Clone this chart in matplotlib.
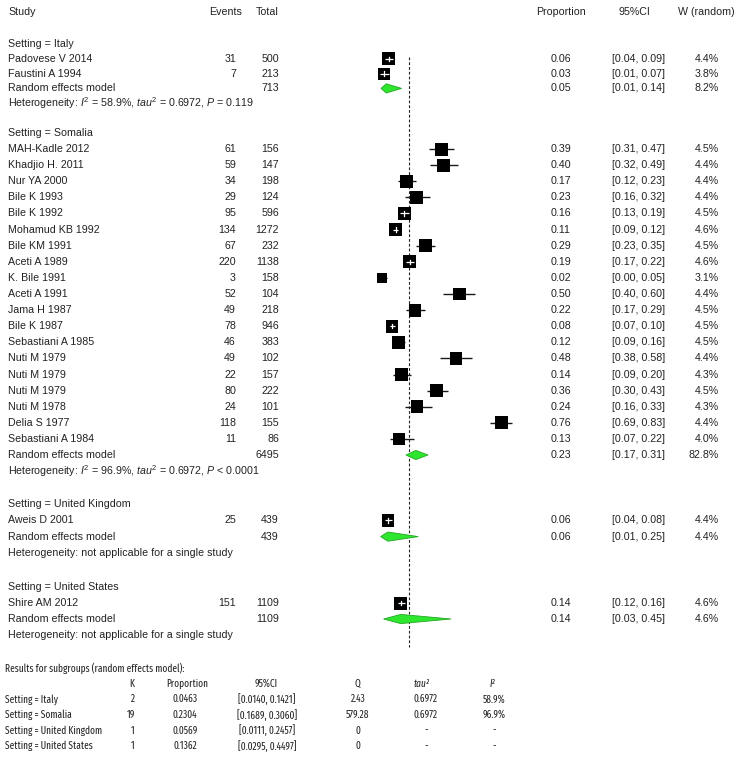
import matplotlib
matplotlib.use('Agg')
import matplotlib.pyplot as plt
from matplotlib.patches import Rectangle, Polygon
import numpy as np

plt.rcParams['font.family'] = ['Liberation Sans', 'DejaVu Sans']
plt.rcParams['mathtext.fontset'] = 'custom'
plt.rcParams['mathtext.rm'] = 'Liberation Sans'
plt.rcParams['mathtext.it'] = 'Liberation Sans:italic'

# ---------------- data ----------------
settings = ["Italy", "Somalia", "United Kingdom", "United States"]

study_names = [
    ["Padovese V 2014", "Faustini A 1994"],
    ["MAH-Kadle 2012", "Khadjio H. 2011", "Nur YA 2000", "Bile K 1993", "Bile K 1992",
     "Mohamud KB 1992", "Bile KM 1991", "Aceti A 1989", "K. Bile 1991", "Aceti A 1991",
     "Jama H 1987", "Bile K 1987", "Sebastiani A 1985", "Nuti M 1979", "Nuti M 1979",
     "Nuti M 1979", "Nuti M 1978", "Delia S 1977", "Sebastiani A 1984"],
    ["Aweis D 2001"],
    ["Shire AM 2012"],
]
events = [
    [31, 7],
    [61, 59, 34, 29, 95, 134, 67, 220, 3, 52, 49, 78, 46, 49, 22, 80, 24, 118, 11],
    [25],
    [151],
]
totals = [
    [500, 213],
    [156, 147, 198, 124, 596, 1272, 232, 1138, 158, 104, 218, 946, 383, 102, 157, 222, 101, 155, 86],
    [439],
    [1109],
]
props = [
    [0.06, 0.03],
    [0.39, 0.40, 0.17, 0.23, 0.16, 0.11, 0.29, 0.19, 0.02, 0.50, 0.22, 0.08, 0.12, 0.48, 0.14,
     0.36, 0.24, 0.76, 0.13],
    [0.06],
    [0.14],
]
ci_low = [
    [0.04, 0.01],
    [0.31, 0.32, 0.12, 0.16, 0.13, 0.09, 0.23, 0.17, 0.00, 0.40, 0.17, 0.07, 0.09, 0.38, 0.09,
     0.30, 0.16, 0.69, 0.07],
    [0.04],
    [0.12],
]
ci_high = [
    [0.09, 0.066],
    [0.47, 0.49, 0.23, 0.32, 0.19, 0.12, 0.35, 0.22, 0.054, 0.60, 0.29, 0.10, 0.16, 0.58, 0.20,
     0.43, 0.33, 0.83, 0.22],
    [0.08],
    [0.16],
]
weights = [
    [4.4, 3.8],
    [4.5, 4.4, 4.4, 4.4, 4.5, 4.6, 4.5, 4.6, 3.1, 4.4, 4.5, 4.5, 4.5, 4.4, 4.3, 4.5, 4.3, 4.4, 4.0],
    [4.4],
    [4.6],
]

# subgroup (random effects) results
sub_k = [2, 19, 1, 1]
sub_prop = [0.0463, 0.2304, 0.0569, 0.1362]
sub_low = [0.0140, 0.1689, 0.0111, 0.0295]
sub_high = [0.1421, 0.3060, 0.2457, 0.4497]
sub_Q = ["2.43", "579.28", "0", "0"]
sub_tau2 = ["0.6972", "0.6972", "-", "-"]
sub_I2 = ["58.9%", "96.9%", "-", "-"]
sub_weight = [8.2, 82.8, 4.4, 4.6]
sub_total = [713, 6495, 439, 1109]
het_text = [
    r"Heterogeneity: $I^2$ = 58.9%, $tau^2$ = 0.6972, $P$ = 0.119",
    r"Heterogeneity: $I^2$ = 96.9%, $tau^2$ = 0.6972, $P$ < 0.0001",
    "Heterogeneity: not applicable for a single study",
    "Heterogeneity: not applicable for a single study",
]
overall_prop = 0.188

# ---------------- layout ----------------
W, H = 751, 762
fig = plt.figure(figsize=(W / 100, H / 100), dpi=100)
ax = fig.add_axes([0, 0, 1, 1])
ax.set_xlim(0, W)
ax.set_ylim(H, 0)
ax.axis('off')

# forest panel: x in proportion units
fx0, fx1 = 360, 540
ppu = 160.8
xmin = (fx0 - 378.8) / ppu
xmax = xmin + (fx1 - fx0) / ppu
fax = fig.add_axes([fx0 / W, 0, (fx1 - fx0) / W, 1])
fax.set_xlim(xmin, xmax)
fax.set_ylim(H, 0)
fax.axis('off')

FS = 7.7
X_STUDY, X_EV, X_TOT, X_PROP, X_CI, X_W = 8, 236, 279, 561, 665, 719

def txt(x, y, s, ha='left', **kw):
    ax.text(x, y, s, ha=ha, va='center', fontsize=kw.pop('fs', FS), color='#222222', **kw)

y_header = 12
txt(X_STUDY, y_header, "Study")
txt(242, y_header, "Events", ha='right')
txt(X_TOT, y_header, "Total", ha='right')
txt(X_PROP, y_header, "Proportion", ha='center')
txt(634, y_header, "95%CI", ha='center')
txt(706, y_header, "W (random)", ha='center')

sec_step = [14.8, 16.1, 16.3, 16.0]
sec_start = [44, 133, 504, 587]

diamond_h = 4.6
sq_base = 13.0
margin_px = 0.5

for g, name in enumerate(settings):
    step = sec_step[g]
    y = sec_start[g]
    txt(X_STUDY, y, f"Setting = {name}")
    for i, st in enumerate(study_names[g]):
        y += step
        e, n = events[g][i], totals[g][i]
        txt(X_STUDY, y, st)
        txt(X_EV, y, f"{e}", ha='right')
        txt(X_TOT, y, f"{n}", ha='right')
        txt(X_PROP, y, f"{props[g][i]:.2f}", ha='center')
        txt(X_CI, y, f"[{ci_low[g][i]:.2f}, {ci_high[g][i]:.2f}]", ha='right')
        txt(X_W, y, f"{weights[g][i]:.1f}%", ha='right')
        # forest marks
        p = e / n
        s_px = sq_base * np.sqrt(weights[g][i] / 4.6)
        half_w = s_px / 2 / ppu
        lo, hi = ci_low[g][i], ci_high[g][i]
        lim = half_w - margin_px / ppu
        inside = (lo >= p - lim) and (hi <= p + lim)
        if not inside:
            fax.plot([lo, hi], [y, y], color='#1a1a1a', lw=1.0, zorder=2, solid_capstyle='butt')
        fax.add_patch(Rectangle((p - half_w, y - s_px / 2), 2 * half_w, s_px,
                                facecolor='black', edgecolor='none', zorder=3))
        if inside:
            fax.plot([lo, hi], [y, y], color='white', lw=0.9, zorder=4, solid_capstyle='butt')
            fax.plot([p, p], [y - 2.2, y + 2.2], color='white', lw=0.9, zorder=4)
    # random effects model
    y += step
    txt(X_STUDY, y, "Random effects model")
    txt(X_TOT, y, f"{sub_total[g]}", ha='right')
    txt(X_PROP, y, f"{sub_prop[g]:.2f}", ha='center')
    txt(X_CI, y, f"[{sub_low[g]:.2f}, {sub_high[g]:.2f}]", ha='right')
    txt(X_W, y, f"{sub_weight[g]:.1f}%", ha='right')
    fax.add_patch(Polygon([(sub_low[g], y), (sub_prop[g], y - diamond_h),
                           (sub_high[g], y), (sub_prop[g], y + diamond_h)],
                          closed=True, facecolor='#2ee62e', edgecolor='#23a823',
                          lw=0.6, zorder=3))
    y += step
    txt(X_STUDY, y, het_text[g])

# dashed reference line
fax.plot([overall_prop, overall_prop], [57, 647], color='#222222', lw=0.8,
         ls=(0, (2.5, 1.8)), zorder=1)

# ---------------- bottom subgroup table ----------------
FS2 = 7.3
NARROW = ['Fira Sans Extra Condensed', 'PT Sans Narrow', 'Liberation Sans', 'DejaVu Sans']
yb = 668
txt(5, yb, "Results for subgroups (random effects model):", fs=FS2, family=NARROW)
yb += 15.6
txt(132, yb, "K", ha='center', fs=FS2, family=NARROW)
txt(187, yb, "Proportion", ha='center', fs=FS2, family=NARROW)
txt(266, yb, "95%CI", ha='center', fs=FS2, family=NARROW)
txt(357, yb, "Q", ha='center', fs=FS2, family=NARROW)
txt(422, yb, "tau\u00b2", ha='center', fs=FS2, family=NARROW, fontstyle='italic')
txt(492, yb, "I\u00b2", ha='center', fs=FS2, family=NARROW, fontstyle='italic')
for g, name in enumerate(settings):
    yb += 15.6
    txt(5, yb, f"Setting = {name}", fs=FS2, family=NARROW)
    txt(135, yb, f"{sub_k[g]}", ha='right', fs=FS2, family=NARROW)
    txt(185, yb, f"{sub_prop[g]:.4f}", ha='center', fs=FS2, family=NARROW)
    txt(267, yb, f"[{sub_low[g]:.4f}, {sub_high[g]:.4f}]", ha='center', fs=FS2, family=NARROW)
    txt(358, yb, sub_Q[g], ha='center', fs=FS2, family=NARROW)
    txt(426, yb, sub_tau2[g], ha='center', fs=FS2, family=NARROW)
    txt(494, yb, sub_I2[g], ha='center', fs=FS2, family=NARROW)

fig.savefig("out.png", dpi=100, facecolor='white')
